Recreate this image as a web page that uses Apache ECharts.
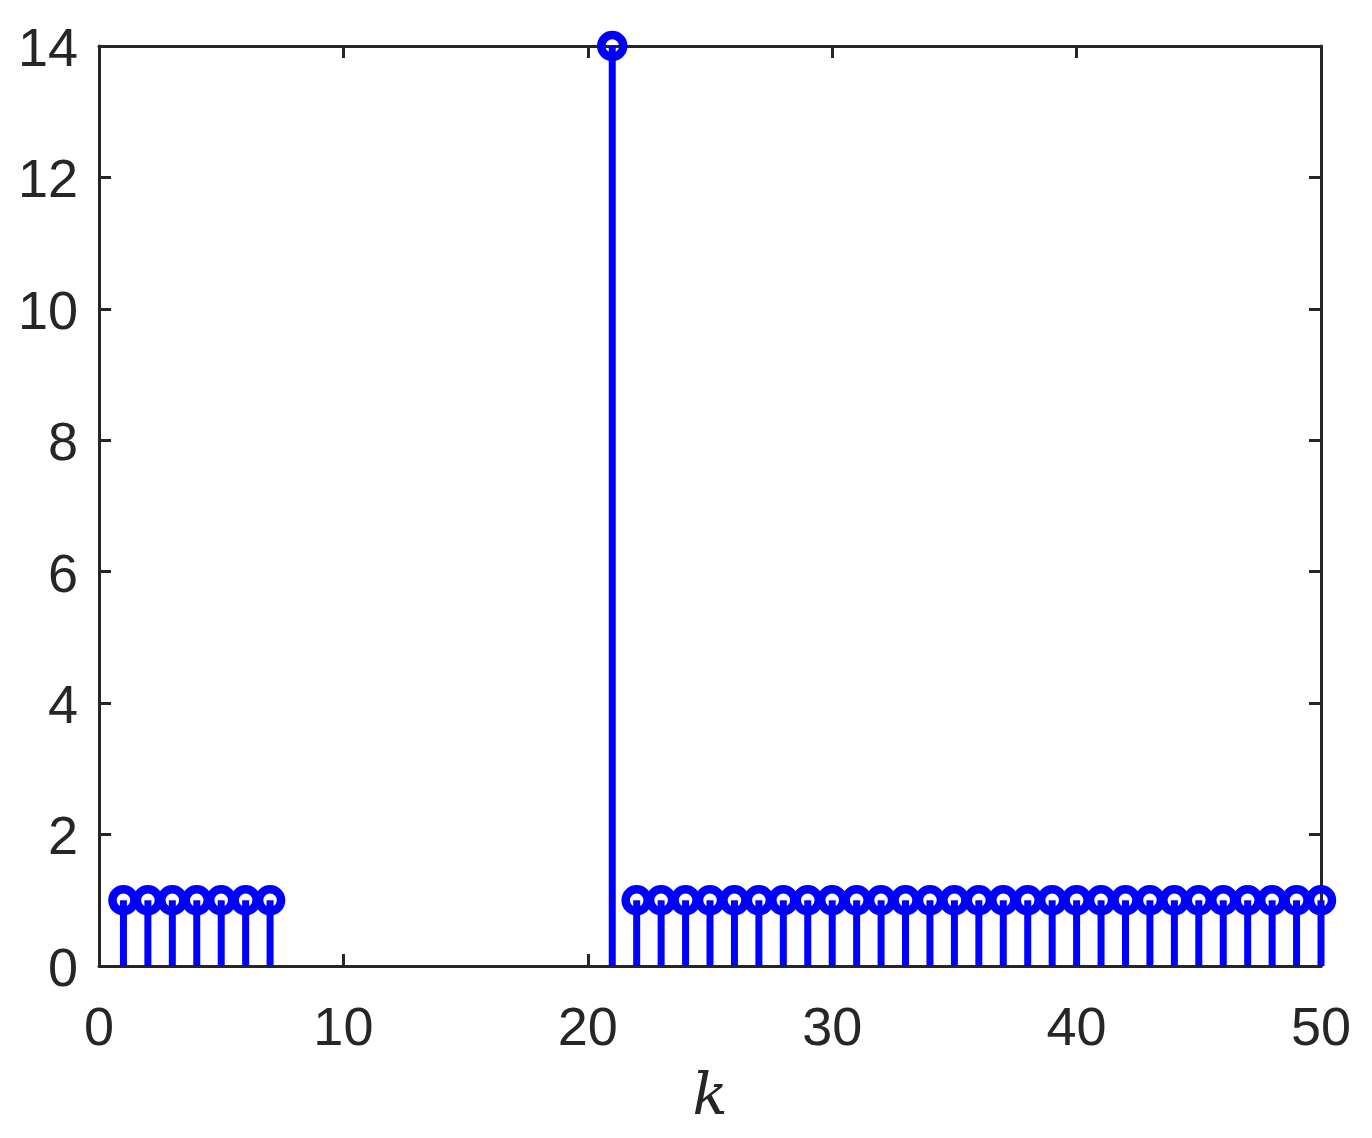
<!DOCTYPE html>
<html>
<head>
<meta charset="utf-8">
<script src="https://cdn.jsdelivr.net/npm/echarts@6/dist/echarts.min.js"></script>
<style>
html,body{margin:0;padding:0;background:#fff;}
#chart{width:1372px;height:1138px;}
</style>
</head>
<body>
<div id="chart"></div>
<script>
// Data
const kValues = [1,2,3,4,5,6,7,21,22,23,24,25,26,27,28,29,30,31,32,33,34,35,36,37,38,39,40,41,42,43,44,45,46,47,48,49,50];
const stemValues = [1,1,1,1,1,1,1,14,1,1,1,1,1,1,1,1,1,1,1,1,1,1,1,1,1,1,1,1,1,1,1,1,1,1,1,1,1];
const xTicks = [0,10,20,30,40,50];
const yTicks = [0,2,4,6,8,10,12,14];

const points = kValues.map((k,i)=>[k, stemValues[i]]);
const axisColor = '#262626';
const blue = '#0000ff';
const labelFont = 'Liberation Sans, Arial, Helvetica, sans-serif';

const chart = echarts.init(document.getElementById('chart'), null, {renderer:'canvas'});
const commonAxis = {
  axisLine:{show:true, onZero:false, lineStyle:{color:axisColor, width:3}},
  axisTick:{show:true, inside:true, length:12, lineStyle:{color:axisColor, width:3}},
  splitLine:{show:false}
};
chart.setOption({
  animation:false,
  backgroundColor:'#fff',
  grid:{left:99, right:51, top:46, bottom:172, containLabel:false},
  xAxis:[
    Object.assign({}, commonAxis, {
      type:'value', position:'bottom', min:0, max:50, interval:10,
      axisLabel:{show:true, color:axisColor, fontSize:54, fontFamily:labelFont, margin:37,
        formatter:v=> xTicks.includes(v) ? String(v) : ''},
      name:'k', nameLocation:'middle', nameGap:104,
      nameTextStyle:{fontFamily:'DejaVu Serif, Liberation Serif, serif', fontStyle:'italic', fontSize:58, color:axisColor}
    }),
    Object.assign({}, commonAxis, {
      type:'value', position:'top', min:0, max:50, interval:10, axisLabel:{show:false}
    })
  ],
  yAxis:[
    Object.assign({}, commonAxis, {
      type:'value', position:'left', min:0, max:14, interval:2,
      axisLabel:{show:true, color:axisColor, fontSize:54, fontFamily:labelFont, margin:21,
        verticalAlign:'top', lineHeight:10,
        formatter:v=> yTicks.includes(v) ? String(v) : ''}
    }),
    Object.assign({}, commonAxis, {
      type:'value', position:'right', min:0, max:14, interval:2, axisLabel:{show:false}
    })
  ],
  series:[
    {
      type:'custom',
      xAxisIndex:0, yAxisIndex:0,
      clip:false,
      data:points,
      renderItem:function(params, api){
        const p0 = api.coord([api.value(0), 0]);
        const p1 = api.coord([api.value(0), api.value(1)]);
        return {type:'group', children:[
          {type:'line', shape:{x1:p0[0], y1:p0[1], x2:p1[0], y2:p1[1]},
            style:{stroke:blue, lineWidth:7, lineCap:'butt'}},
          {type:'circle', shape:{cx:p1[0], cy:p1[1], r:11},
            style:{fill:null, stroke:blue, lineWidth:8.5}, z2:5}
        ]};
      },
      z:3
    }
  ]
});
</script>
</body>
</html>
